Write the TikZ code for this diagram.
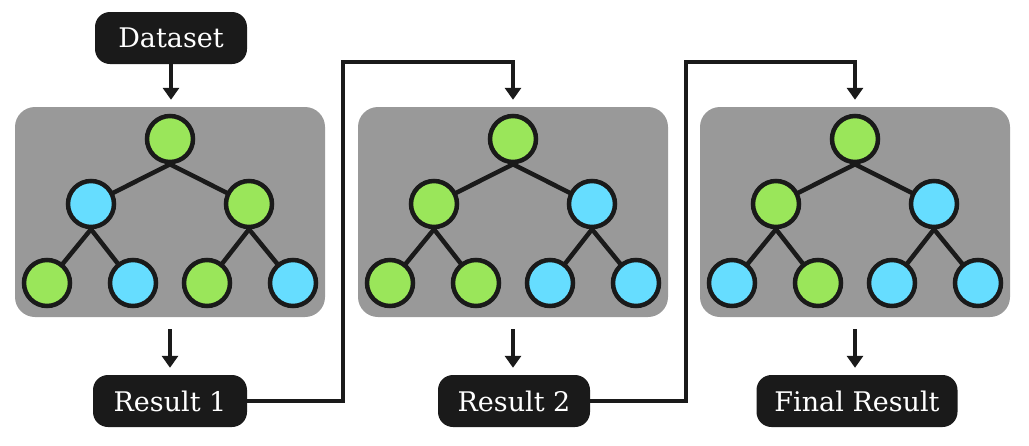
\documentclass[tikz,border=0pt]{standalone}
\usepackage{fontspec}
\setmainfont{DejaVu Serif}
\usetikzlibrary{arrows.meta}
\pgfdeclarelayer{bg}
\pgfdeclarelayer{edges}
\pgfsetlayers{bg,edges,main}
\definecolor{cG}{HTML}{9AE65A}
\definecolor{cB}{HTML}{66DDFF}
\definecolor{panelgray}{HTML}{999999}
\definecolor{boxblack}{HTML}{1A1A1A}
\tikzset{
  panel/.style={fill=panelgray, draw=none, rounded corners=20pt, minimum width=310pt, minimum height=210pt},
  tnode/.style={circle, draw=boxblack, line width=4.5pt, minimum size=46pt, inner sep=0pt},
  tedge/.style={draw=boxblack, line width=4.5pt},
  label box/.style={fill=boxblack, text=white, rounded corners=15pt, minimum height=52pt, inner xsep=0pt, font=\fontsize{27}{30}\selectfont},
  arr/.style={draw=boxblack, line width=3.5pt, -{Triangle[width=16pt,length=12pt]}},
  conn/.style={draw=boxblack, line width=3.5pt, -{Triangle[width=16pt,length=12pt]}}
}
\begin{document}
\begin{tikzpicture}[x=1pt,y=-1pt]
\useasboundingbox (0,0) rectangle (1029,445);
\foreach \p/\cx/\ca/\cb/\cc/\cd/\ce/\cf in {1/170/B/G/G/B/G/B, 2/513/G/B/G/G/B/B, 3/855/G/B/B/G/B/B}{
  \begin{pgfonlayer}{bg}
  \node[panel] (pan\p) at (\cx,212) {};
  \end{pgfonlayer}
  \node[tnode, fill=cG] (p\p r) at (\cx,139) {};
  \node[tnode, fill=c\ca] (p\p a) at (\cx-79,204) {};
  \node[tnode, fill=c\cb] (p\p b) at (\cx+79,204) {};
  \node[tnode, fill=c\cc] (p\p c) at (\cx-123,283) {};
  \node[tnode, fill=c\cd] (p\p d) at (\cx-37,283) {};
  \node[tnode, fill=c\ce] (p\p e) at (\cx+37,283) {};
  \node[tnode, fill=c\cf] (p\p f) at (\cx+123,283) {};
  \begin{pgfonlayer}{edges}
  \draw[tedge] (p\p r.south) -- (p\p a.center);
  \draw[tedge] (p\p r.south) -- (p\p b.center);
  \draw[tedge] (p\p a.south) -- (p\p c.center);
  \draw[tedge] (p\p a.south) -- (p\p d.center);
  \draw[tedge] (p\p b.south) -- (p\p e.center);
  \draw[tedge] (p\p b.south) -- (p\p f.center);
  \end{pgfonlayer}
}
\node[label box, minimum width=152pt] (data) at (171,38) {Dataset};
\node[label box, minimum width=154pt] (r1) at (170,401) {Result 1};
\node[label box, minimum width=152pt] (r2) at (514,401) {Result 2};
\node[label box, minimum width=201pt] (fin) at (857,401) {Final Result};
\coordinate (k1) at (343,62);
\coordinate (k2) at (686,62);
\draw[arr, shorten >=7pt] (data.south) -- (data.south |- pan1.north);
\draw[arr, shorten <=12pt, shorten >=7pt] (pan1.south) -- (pan1.south |- r1.north);
\draw[arr, shorten <=12pt, shorten >=7pt] (pan2.south) -- (pan2.south |- r2.north);
\draw[arr, shorten <=12pt, shorten >=7pt] (pan3.south) -- (pan3.south |- fin.north);
\draw[conn, shorten >=7pt] (r1.east) -| (k1) -| (pan2.north);
\draw[conn, shorten >=7pt] (r2.east) -| (k2) -| (pan3.north);
\end{tikzpicture}
\end{document}
